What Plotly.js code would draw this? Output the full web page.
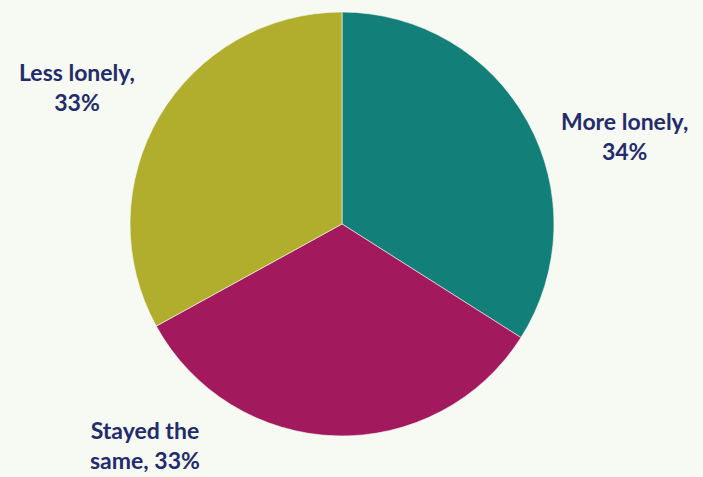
<!DOCTYPE html>
<html>
<head>
<meta charset="utf-8">
<script src="https://cdn.plot.ly/plotly-3.0.1.min.js"></script>
<style>html,body{margin:0;padding:0;background:#f7f9f3;}</style>
</head>
<body>
<div id="chart" style="width:703px;height:477px;"></div>
<script>
const categories = ["More lonely", "Stayed the same", "Less lonely"];
const values = [34, 33, 33];
const labelTexts = ["More lonely,<br>34%", "Stayed the<br>same, 33%", "Less lonely,<br>33%"];
const colors = ["#128079", "#a21a5d", "#b1ae2d"];
const labelPos = [[0.889, 0.715], [0.206, 0.068], [0.109, 0.818]];

const trace = {
  type: "pie",
  labels: categories,
  values: values,
  sort: false,
  direction: "clockwise",
  rotation: 0,
  textinfo: "none",
  hoverinfo: "label+percent",
  marker: {colors: colors, line: {color: "#f7f9f3", width: 0.6}},
  domain: {x: [0.1849, 0.7881], y: [0.0860, 0.9748]},
  showlegend: false
};

const annotations = labelTexts.map((t, i) => ({
  text: t, x: labelPos[i][0], y: labelPos[i][1], xref: "paper", yref: "paper",
  showarrow: false, xanchor: "center", yanchor: "middle", align: "center",
  font: {family: "Lato, 'Open Sans', sans-serif", size: 23, color: "#232c6a", weight: "bold"}
}));

Plotly.newPlot("chart", [trace], {
  width: 703, height: 477,
  margin: {l: 0, r: 0, t: 0, b: 0},
  paper_bgcolor: "#f7f9f3",
  plot_bgcolor: "#f7f9f3",
  annotations: annotations
}, {displayModeBar: false, staticPlot: true});
</script>
</body>
</html>
